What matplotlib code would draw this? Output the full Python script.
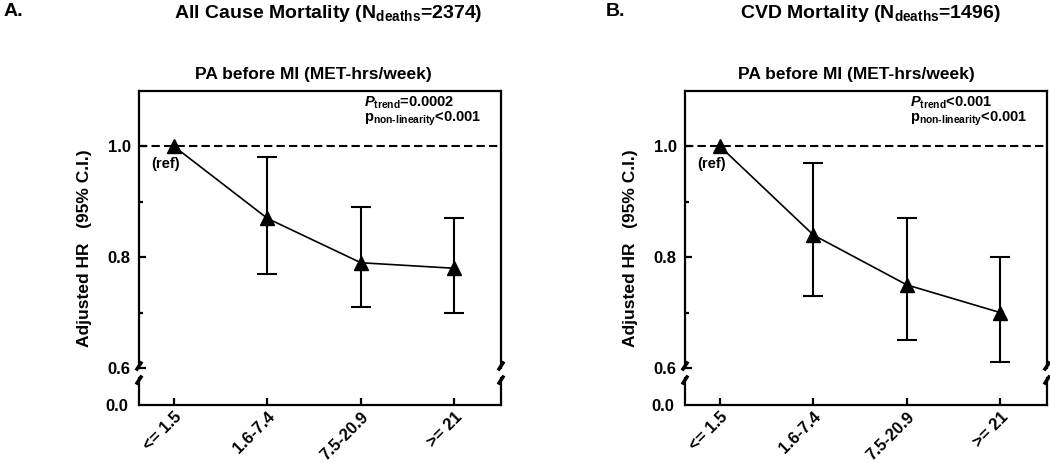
import matplotlib
matplotlib.use("Agg")
import matplotlib.pyplot as plt
from matplotlib.lines import Line2D
import numpy as np

plt.rcParams['font.family'] = ['Liberation Sans', 'DejaVu Sans']
plt.rcParams['font.weight'] = 'bold'
plt.rcParams['mathtext.fontset'] = 'custom'
plt.rcParams['mathtext.rm'] = 'Liberation Sans'
plt.rcParams['mathtext.it'] = 'Liberation Sans:italic:bold'
plt.rcParams['mathtext.bf'] = 'Liberation Sans:bold'

# ---- data ----
categories = ['<= 1.5', '1.6-7.4', '7.5-20.9', '>= 21']
hr_all = [1.0, 0.87, 0.79, 0.78]
lo_all = [1.0, 0.77, 0.71, 0.70]
hi_all = [1.0, 0.98, 0.89, 0.87]
hr_cvd = [1.0, 0.84, 0.75, 0.70]
lo_cvd = [1.0, 0.73, 0.65, 0.61]
hi_cvd = [1.0, 0.97, 0.87, 0.80]
panel_letters = ['A.', 'B.']
panel_titles = [r'All Cause Mortality (N$_{\mathrm{deaths}}$=2374)',
                r'CVD Mortality (N$_{\mathrm{deaths}}$=1496)']
subtitle = 'PA before MI (MET-hrs/week)'
ptrend_texts = [r'$\mathit{P}_{\mathbf{trend}}$=0.0002', r'$\mathit{P}_{\mathbf{trend}}$<0.001']
pnonlin_texts = [r'p$_{\mathbf{non\text{-}linearity}}$<0.001', r'p$_{\mathbf{non\text{-}linearity}}$<0.001']
ylabel = 'Adjusted HR   (95% C.I.)'

W, H = 1050, 463
fig = plt.figure(figsize=(W / 100, H / 100), dpi=100)


def fx(x):
    return x / W


def fy(y):
    return 1 - y / H


panels = [
    dict(x0=139, x1=501, hr=hr_all, lo=lo_all, hi=hi_all, letter_x=4, title_x=328, sub_x=313, ylab_x=84),
    dict(x0=685, x1=1047, hr=hr_cvd, lo=lo_cvd, hi=hi_cvd, letter_x=606, title_x=870, sub_x=856, ylab_x=630),
]

top_y, brk_top, brk_bot, bot_y = 91, 368, 378, 405
lw = 1.6

for i, p in enumerate(panels):
    axt = fig.add_axes([fx(p['x0']), fy(brk_top), (p['x1'] - p['x0']) / W, (brk_top - top_y) / H])
    axb = fig.add_axes([fx(p['x0']), fy(bot_y), (p['x1'] - p['x0']) / W, (bot_y - brk_bot) / H])
    x = np.arange(len(categories))
    hr = np.array(p['hr'])
    lo = np.array(p['lo'])
    hi = np.array(p['hi'])

    for ax in (axt, axb):
        ax.set_xlim(-0.375, 3.5)
        for s in ax.spines.values():
            s.set_linewidth(lw)
    axt.set_ylim(0.6, 1.1)
    axt.spines['bottom'].set_visible(False)
    axb.spines['top'].set_visible(False)
    axb.set_ylim(0, 0.05)

    axt.axhline(1.0, color='black', lw=1.5, ls=(0, (4, 2)), zorder=1)
    axt.errorbar(x[1:], hr[1:], yerr=[hr[1:] - lo[1:], hi[1:] - hr[1:]], fmt='none',
                 ecolor='black', elinewidth=1.5, capsize=7, capthick=1.5, zorder=2)
    axt.plot(x, hr, color='black', lw=1.2, marker='^', ms=10, mfc='black', mec='black', zorder=3,
             clip_on=False)
    axt.annotate('(ref)', xy=(0, 1.0), xytext=(-6, -12.5), textcoords='offset points',
                 ha='center', va='center', fontsize=10.5, fontweight='bold')

    axt.set_yticks([0.6, 0.8, 1.0])
    axt.set_yticklabels(['0.6', '0.8', '1.0'])
    axt.set_yticks([0.7, 0.9], minor=True)
    axt.set_xticks([])
    axt.tick_params(axis='y', which='major', direction='in', length=5, width=lw, labelsize=12, pad=6)
    axt.tick_params(axis='y', which='minor', direction='in', length=3, width=lw)

    axb.set_yticks([0])
    axb.set_yticklabels(['0.0'])
    axb.tick_params(axis='y', length=0, labelsize=12, pad=8)
    axb.set_xticks(x)
    axb.set_xticklabels(categories, rotation=45, ha='right', rotation_mode='anchor', fontsize=12)
    axb.tick_params(axis='x', direction='in', length=5, width=lw, pad=3)

    axt.text(2.03, 1.079, ptrend_texts[i], fontsize=10.5, fontweight='bold', ha='left', va='center')
    axt.text(2.03, 1.05, pnonlin_texts[i], fontsize=10.5, fontweight='bold', ha='left', va='center')

    # break marks
    for xe in (p['x0'], p['x1']):
        for yc in (brk_top - 2, brk_bot + 2):
            fig.add_artist(Line2D([fx(xe - 2), fx(xe + 2)], [fy(yc + 3), fy(yc - 3)],
                                  color='black', lw=2.5, transform=fig.transFigure))

    fig.text(fx(p['letter_x']), fy(12), panel_letters[i], fontsize=14, fontweight='bold', ha='left', va='center')
    fig.text(fx(p['title_x']), fy(14), panel_titles[i], fontsize=14, fontweight='bold', ha='center', va='center')
    fig.text(fx(p['sub_x']), fy(75), subtitle, fontsize=12.5, fontweight='bold', ha='center', va='center')
    fig.text(fx(p['ylab_x']), fy(248), ylabel, fontsize=12.5, fontweight='bold', ha='center', va='center',
             rotation=90)

fig.savefig('out.png', dpi=100)
